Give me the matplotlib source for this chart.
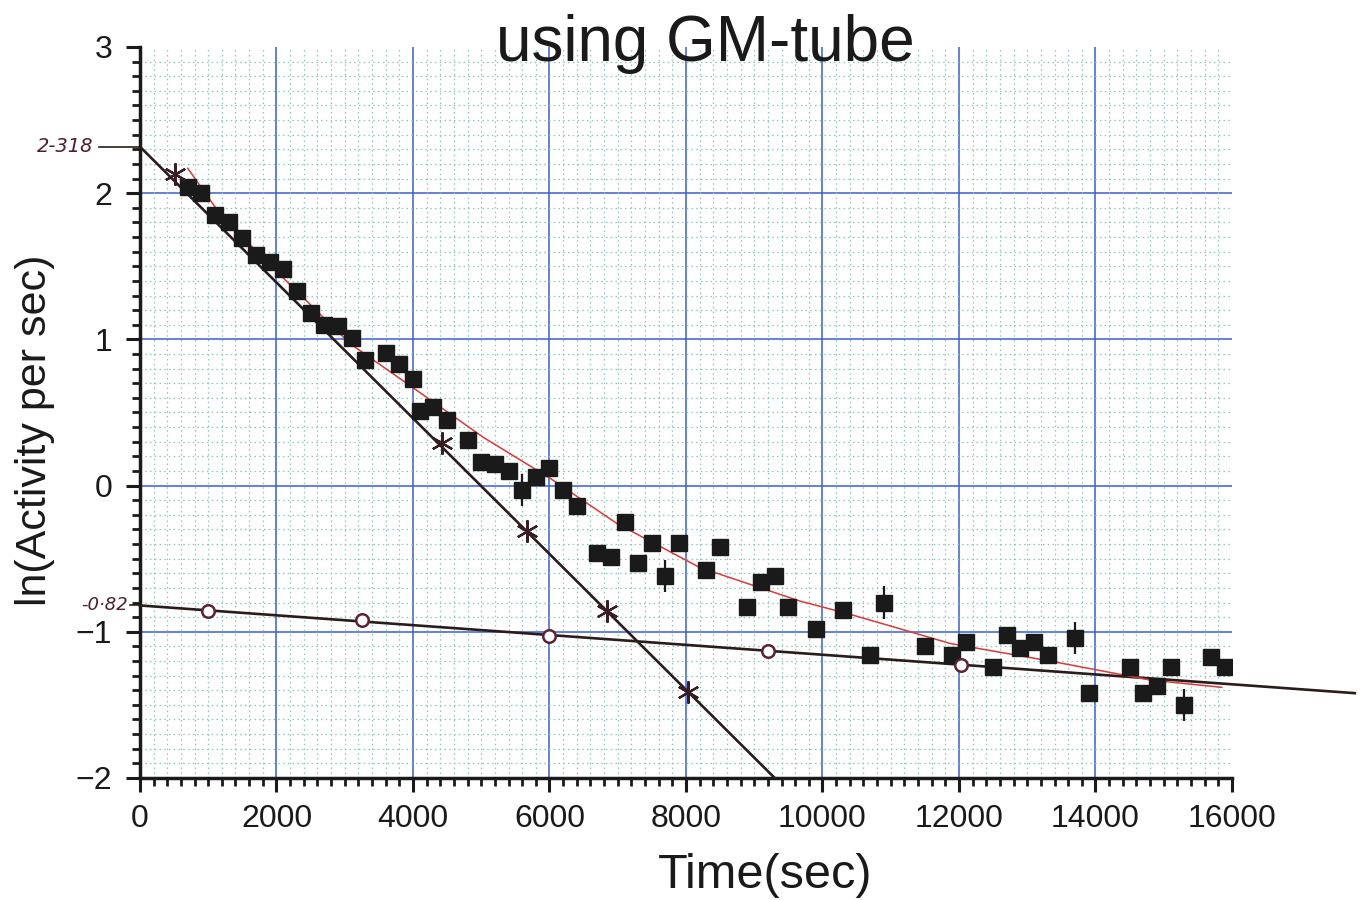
import numpy as np
import matplotlib.pyplot as plt

plt.rcParams['font.family'] = ['Liberation Sans', 'DejaVu Sans']

# measured points, ln(activity per sec) vs time (s)
t_data = [700, 900, 1100, 1300, 1500, 1700, 1900, 2100, 2300, 2500, 2700, 2900,
          3100, 3300, 3600, 3800, 4000, 4100, 4300, 4500, 4800, 5000, 5200, 5400,
          5600, 5800, 6000, 6200, 6400, 6700, 6900, 7100, 7300, 7500, 7700, 7900,
          8300, 8500, 8900, 9100, 9300, 9500, 9900, 10300, 10700, 10900, 11500,
          11900, 12100, 12500, 12700, 12900, 13100, 13300, 13700, 13900, 14500,
          14700, 14900, 15100, 15300, 15700, 15900]
lnA_data = [2.04, 2.00, 1.85, 1.80, 1.69, 1.58, 1.53, 1.48, 1.33, 1.18, 1.10, 1.09,
            1.01, 0.86, 0.91, 0.83, 0.73, 0.51, 0.54, 0.45, 0.31, 0.16, 0.15, 0.10,
            -0.03, 0.06, 0.12, -0.03, -0.14, -0.46, -0.49, -0.25, -0.53, -0.39, -0.62, -0.39,
            -0.58, -0.42, -0.83, -0.66, -0.62, -0.83, -0.98, -0.85, -1.16, -0.80, -1.10,
            -1.16, -1.07, -1.24, -1.02, -1.11, -1.07, -1.16, -1.04, -1.42, -1.24,
            -1.42, -1.37, -1.24, -1.50, -1.17, -1.24]
# points drawn with vertical error marks
t_err = [5600, 7700, 10900, 13700, 15300]
lnA_err = [-0.03, -0.62, -0.80, -1.04, -1.50]
err_size = 0.11

# fast component (stars) and slow component (circles)
t_fast = [510, 4430, 5670, 6850, 8030]
lnA_fast = [2.13, 0.29, -0.31, -0.86, -1.41]
t_slow = [1000, 3250, 6000, 9200, 12030]
lnA_slow = [-0.86, -0.92, -1.03, -1.13, -1.23]

# hand-drawn straight lines (end points)
fast_line_t = [0, 9300]
fast_line_y = [2.318, -2.0]
slow_line_t = [0, 17800]
slow_line_y = [-0.82, -1.42]

# red fitted curve, read along its path
fit_t = [700, 1170, 1860, 3080, 4060, 5030, 6010, 6990, 8200, 9670, 10400,
         11140, 11870, 13330, 14800, 15850]
fit_y = [2.17, 1.86, 1.53, 0.97, 0.65, 0.33, 0.05, -0.26, -0.56, -0.79, -0.88,
         -0.98, -1.08, -1.20, -1.33, -1.38]

x_major = [0, 2000, 4000, 6000, 8000, 10000, 12000, 14000, 16000]
y_major = [-2, -1, 0, 1, 2, 3]

fig = plt.figure(figsize=(13.64, 9), dpi=100)
ax = fig.add_axes([0.1026, 0.1356, 0.8006, 0.8122])

ax.set_xlim(0, 16000)
ax.set_ylim(-2, 3)
ax.set_xticks(x_major)
ax.set_yticks(y_major)
ax.set_xticks(np.arange(0, 16001, 200), minor=True)
ax.set_yticks(np.arange(-2, 3.001, 0.1), minor=True)

# graph paper
ax.grid(which='minor', color='#8cc6b6', linestyle=(0, (1.2, 2.6)), linewidth=0.9)
for xv in x_major[1:-1]:
    ax.axvline(xv, color='#3a5fd0', linewidth=1.1, zorder=1)
for yv in y_major[1:-1]:
    ax.axhline(yv, color='#3a5fd0', linewidth=1.1, zorder=1)

for s in ['top', 'right']:
    ax.spines[s].set_visible(False)
for s in ['left', 'bottom']:
    ax.spines[s].set_linewidth(2.5)
    ax.spines[s].set_color('#1a1a1a')

ax.tick_params(which='major', length=10, width=2.2, direction='out',
               labelsize=23, colors='#1a1a1a')
ax.tick_params(axis='y', which='major', pad=10)
ax.tick_params(axis='x', which='major', pad=9)
ax.tick_params(which='minor', length=6, width=2, direction='out', color='#1a1a1a')

# lines
ax.plot(fast_line_t, fast_line_y, color='#2a1c1c', linewidth=1.9, zorder=4)
ax.plot(slow_line_t, slow_line_y, color='#2a1c1c', linewidth=1.9, zorder=4,
        clip_on=False)
ax.plot(fit_t, fit_y, color='#d83a3a', linewidth=1.1, zorder=5)

# annotation marks on y axis
ax.plot([-600, 0], [2.318, 2.318], color='#2a1c1c', linewidth=1.2, clip_on=False)
ax.plot([-150, 0], [-0.82, -0.82], color='#2a1c1c', linewidth=1.2, clip_on=False)
ax.text(-680, 2.318, '2-318', ha='right', va='center', fontsize=14,
        style='italic', color='#4a2030', family='DejaVu Sans')
ax.text(-180, -0.82, '-0·82', ha='right', va='center', fontsize=13,
        style='italic', color='#4a2030', family='DejaVu Sans')

# markers
ax.plot(t_data, lnA_data, linestyle='none', marker='s', markersize=11,
        color='#1a1a1a', zorder=6)
ax.errorbar(t_err, lnA_err, yerr=err_size, fmt='none', ecolor='#1a1a1a',
            elinewidth=1.6, capsize=0, zorder=6)
ax.plot(t_fast, lnA_fast, linestyle='none', marker=(6, 2, 0), markersize=16,
        markeredgewidth=1.6, color='#3a1c24', zorder=7)
ax.plot(t_slow, lnA_slow, linestyle='none', marker='o', markersize=9,
        markerfacecolor='white', markeredgecolor='#5a2434', markeredgewidth=1.8,
        zorder=7)

fig.text(705 / 1364, 1 - 44 / 900, 'using GM-tube', ha='center', va='center',
         fontsize=46, color='#1a1a1a')
fig.text(765 / 1364, 1 - 875 / 900, 'Time(sec)', ha='center', va='center',
         fontsize=35, color='#1a1a1a')
fig.text(35 / 1364, 1 - 430 / 900, 'ln(Activity per sec)', ha='center',
         va='center', rotation=90, fontsize=31, color='#1a1a1a')

fig.savefig('out.png', dpi=100)
